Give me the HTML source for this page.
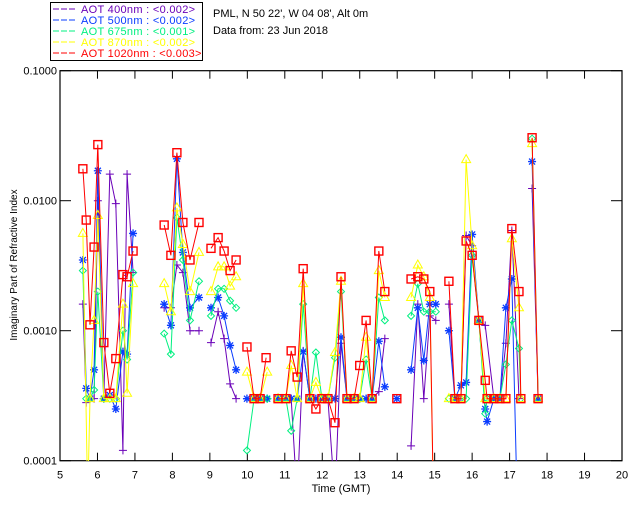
<!DOCTYPE html>
<html><head><meta charset="utf-8">
<style>
html,body{margin:0;padding:0;background:#fff;}
svg{display:block;font-family:"Liberation Sans",sans-serif;}
</style></head>
<body>
<svg id="chart" width="640" height="512" viewBox="0 0 640 512">
<rect x="0" y="0" width="640" height="512" fill="#fff"/>
<defs><clipPath id="pc"><rect x="60" y="70" width="562" height="391"/></clipPath></defs>
<g id="legend">
<rect x="50.5" y="2.5" width="152" height="58" fill="#fff" stroke="#000"/>
</g>
<text x="213" y="17" font-size="11">PML, N 50 22', W 04 08', Alt 0m</text>
<text x="213" y="34" font-size="11">Data from: 23 Jun 2018</text>
<g id="axes"></g>
<g id="series" clip-path="url(#pc)"></g>
<text x="341" y="492" font-size="11" text-anchor="middle">Time (GMT)</text>
<text transform="translate(17,265) rotate(-90)" font-size="10" text-anchor="middle">Imaginary Part of Refractive Index</text>
</svg>
<script>
const xTicks = [5,6,7,8,9,10,11,12,13,14,15,16,17,18,19,20];
const yTicks = [0.1,0.01,0.001,0.0001];
const yTickLabels = ["0.1000","0.0100","0.0010","0.0001"];
const legendLabels = ["AOT  400nm : <0.002>","AOT  500nm : <0.002>","AOT  675nm : <0.001>","AOT  870nm : <0.002>","AOT 1020nm : <0.003>"];

const s400 = [[5.61,0.0016],[5.70,0.00028],[5.80,0.0003],[5.91,0.0003],[6.01,0.01],[6.17,0.0003],[6.33,0.016],[6.49,0.0095],[6.68,0.00012],[6.79,0.016],[6.95,0.0028],null,[7.78,0.0015],[7.96,0.0015],[8.12,0.0032],[8.28,0.0028],[8.47,0.001],[8.71,0.001],null,[9.03,0.00081],[9.22,0.0014],[9.38,0.00087],[9.54,0.00039],[9.70,0.0003],null,[9.99,0.0003],[10.18,0.0003],[10.34,0.0003],[10.53,0.0003],null,[10.82,0.0003],[11.03,0.0003],[11.17,0.0003],[11.33,0.00005],[11.49,0.0007],[11.67,0.0003],[11.83,0.0003],[11.99,0.0003],[12.15,0.0003],[12.34,0.00005],[12.50,0.0008],[12.66,0.0003],[12.85,0.0003],[13.00,0.0003],[13.17,0.0003],[13.33,0.0003],[13.51,0.00034],[13.67,0.00087],null,[14.37,0.00013],[14.55,0.0016],[14.71,0.0003],[14.87,0.0013],[15.03,0.0012],null,[15.38,0.0016],[15.54,0.0003],[15.70,0.0003],[15.84,0.0054],[16.00,0.0045],[16.18,0.0012],[16.35,0.0011],[16.58,0.0003],[16.74,0.0003],[16.90,0.0008],[17.06,0.0059],[17.25,0.0003],null,[17.60,0.0124],[17.76,0.0003]];
const s500 = [[5.61,0.0035],[5.70,0.00036],[5.80,0.0003],[5.91,0.0005],[6.01,0.017],[6.17,0.0003],[6.33,0.00032],[6.49,0.00025],[6.68,0.00069],[6.79,0.00066],[6.95,0.0056],null,[7.78,0.0016],[7.96,0.0011],[8.12,0.021],[8.28,0.004],[8.47,0.0015],[8.71,0.0018],null,[9.03,0.0015],[9.22,0.0018],[9.38,0.0013],[9.54,0.00077],[9.70,0.0005],null,[9.99,0.0003],[10.18,0.0003],[10.34,0.0003],[10.53,0.0003],null,[10.82,0.0003],[11.03,0.0003],[11.17,0.0003],[11.33,0.0003],[11.49,0.00069],[11.67,0.0003],[11.83,0.0003],[11.99,0.0003],[12.15,0.0003],[12.34,0.0003],[12.50,0.00089],[12.66,0.0003],[12.85,0.0003],[13.00,0.0003],[13.17,0.0003],[13.33,0.0003],[13.51,0.00083],[13.67,0.00037],null,[13.99,0.0003],null,[14.37,0.0005],[14.55,0.0015],[14.71,0.00059],[14.87,0.0016],[15.03,0.0016],null,[15.38,0.001],[15.54,0.0003],[15.70,0.00038],[15.84,0.0004],[16.00,0.0055],[16.18,0.0012],[16.35,0.00025],[16.40,0.0002],[16.58,0.0003],[16.74,0.0003],[16.90,0.0015],[17.06,0.0025],[17.20,0.00005],null,[17.60,0.02],[17.76,0.0003]];
const s675 = [[5.61,0.0029],[5.70,0.0003],[5.80,0.0003],[5.91,0.00035],[6.01,0.002],[6.17,0.0003],[6.33,0.0003],[6.49,0.0003],[6.68,0.001],[6.79,0.0006],[6.95,0.0028],null,[7.78,0.00095],[7.96,0.00066],[8.12,0.0074],[8.28,0.0035],[8.47,0.0012],[8.71,0.0024],null,[9.03,0.0013],[9.22,0.0021],[9.38,0.0021],[9.54,0.0017],[9.70,0.0015],null,[9.99,0.00012],[10.18,0.0003],[10.34,0.0003],[10.53,0.0003],null,[10.82,0.0003],[11.03,0.0003],[11.17,0.00017],[11.33,0.0003],[11.49,0.0016],[11.67,0.0003],[11.83,0.00068],[11.99,0.0003],[12.15,0.0003],[12.34,0.00062],[12.50,0.002],[12.66,0.0003],[12.85,0.0003],[13.00,0.0003],[13.17,0.0006],[13.33,0.0003],[13.51,0.0018],[13.67,0.0012],null,[14.37,0.0013],[14.55,0.0023],[14.71,0.0014],[14.87,0.0014],[15.03,0.0014],null,[15.38,0.0003],[15.54,0.0003],[15.70,0.0003],[15.84,0.0003],[16.00,0.0038],[16.18,0.0012],[16.35,0.00023],[16.40,0.0003],[16.58,0.0003],[16.74,0.0003],[16.90,0.00055],[17.06,0.0012],[17.25,0.00073],[17.30,0.0003],null,[17.60,0.03],[17.76,0.0003]];
const s870 = [[5.61,0.0056],[5.74,0.00005],[5.80,0.0003],[5.91,0.0012],[6.01,0.0077],[6.17,0.0003],[6.33,0.0003],[6.49,0.0003],[6.68,0.0016],[6.79,0.00033],[6.95,0.0023],null,[7.78,0.0023],[7.96,0.0014],[8.12,0.0088],[8.28,0.0046],[8.47,0.002],[8.71,0.004],null,[9.03,0.002],[9.22,0.0031],[9.38,0.0031],[9.54,0.0022],[9.70,0.0026],null,[9.99,0.00048],[10.18,0.0003],[10.34,0.0003],[10.53,0.00048],null,[10.82,0.0003],[11.03,0.0003],[11.17,0.00054],[11.33,0.0003],[11.49,0.0023],[11.67,0.0003],[11.83,0.0004],[11.99,0.0003],[12.15,0.0003],[12.34,0.00068],[12.50,0.0024],[12.66,0.0003],[12.85,0.0003],[13.00,0.0003],[13.17,0.00089],[13.33,0.0003],[13.51,0.0029],[13.67,0.0018],null,[14.37,0.0018],[14.55,0.0032],[14.71,0.0026],[14.87,0.0018],[14.98,0.00003],null,[15.38,0.0003],[15.54,0.0003],[15.70,0.0003],[15.84,0.0207],[16.00,0.0045],[16.18,0.0012],[16.35,0.0003],[16.58,0.0003],[16.74,0.0003],[16.90,0.0003],[17.06,0.0051],[17.25,0.0015],[17.30,0.0003],null,[17.60,0.0275],[17.76,0.0003]];
const s1020 = [[5.61,0.0176],[5.70,0.0071],[5.80,0.00111],[5.91,0.0044],[6.01,0.027],[6.17,0.00081],[6.33,0.00033],[6.49,0.00061],[6.68,0.0027],[6.79,0.0026],[6.95,0.0041],null,[7.78,0.0065],[7.96,0.0038],[8.12,0.0234],[8.28,0.0068],[8.47,0.0035],[8.71,0.0068],null,[9.03,0.0043],[9.22,0.0052],[9.38,0.0041],[9.54,0.0029],[9.70,0.0035],null,[9.99,0.00075],[10.18,0.0003],[10.34,0.0003],[10.50,0.00062],null,[10.82,0.0003],[11.03,0.0003],[11.17,0.0007],[11.33,0.00044],[11.49,0.003],[11.67,0.0003],[11.83,0.00025],[11.99,0.0003],[12.15,0.0003],[12.34,0.000196],[12.50,0.0026],[12.66,0.0003],[12.85,0.0003],[13.00,0.00054],[13.17,0.0012],[13.33,0.0003],[13.51,0.0041],[13.67,0.002],null,[13.99,0.0003],null,[14.37,0.0025],[14.55,0.0026],[14.71,0.0025],[14.87,0.002],[14.98,0.00003],null,[15.38,0.0024],[15.54,0.0003],[15.70,0.0003],[15.84,0.0049],[16.00,0.0038],[16.18,0.0012],[16.35,0.000415],[16.40,0.0003],[16.58,0.0003],[16.74,0.0003],[16.90,0.0003],[17.06,0.0061],[17.25,0.002],[17.30,0.0003],null,[17.60,0.0305],[17.76,0.0003]];

const NS = "http://www.w3.org/2000/svg";
const X0 = 60, X1 = 622, Y0 = 70.7, Y1 = 460.7;
function xs(t){ return X0 + (t - 5) * (X1 - X0) / 15; }
function ys(v){ return Y0 + (-1 - Math.log10(v)) * (Y1 - Y0) / 3; }
function mk(tag, attrs, parent){ const e = document.createElementNS(NS, tag); for (const k in attrs) e.setAttribute(k, attrs[k]); parent.appendChild(e); return e; }

const axes = document.getElementById('axes');
const frame = mk('rect', {x:X0, y:Y0, width:X1-X0, height:Y1-Y0, fill:'none', stroke:'#000', 'stroke-width':1.2}, axes);


xTicks.forEach(t => {
  const x = xs(t);
  const a = mk('line', {x1:x, x2:x, y1:Y1, y2:Y1-8, stroke:'#000'}, axes);
  
  
  mk('line', {x1:x, x2:x, y1:Y0, y2:Y0+8, stroke:'#000'}, axes);
  const l = mk('text', {x:x, y:Y1+18, 'font-size':11, 'text-anchor':'middle'}, axes);
  l.textContent = t;
  
  
});
yTicks.forEach((v, i) => {
  const y = ys(v);
  const a = mk('line', {x1:X0, x2:X0+11, y1:y, y2:y, stroke:'#000'}, axes);
  
  
  mk('line', {x1:X1, x2:X1-11, y1:y, y2:y, stroke:'#000'}, axes);
  const l = mk('text', {x:X0-3, y:y+4, 'font-size':11, 'text-anchor':'end'}, axes);
  l.textContent = yTickLabels[i];
  
  
});

const cols = ['#6a00b8','#0a3cff','#00f080','#ffff00','#ff0000'];
const names = ['aot-400','aot-500','aot-675','aot-870','aot-1020'];
const types = ['plus','star','diamond','tri','square'];
const allSeries = [s400, s500, s675, s870, s1020];

const leg = document.getElementById('legend');
legendLabels.forEach((lab, i) => {
  const y = 9 + i * 11;
  mk('line', {x1:53, x2:77, y1:y, y2:y, stroke:cols[i], 'stroke-dasharray':'6,2'}, leg);
  const t = mk('text', {x:81, y:y+4, 'font-size':11, fill:cols[i], 'letter-spacing':'0.3', 'xml:space':'preserve'}, leg);
  t.textContent = lab;
  
  
});

const sg = document.getElementById('series');
function marker(type, x, y, c, g){
  let e;
  if (type === 'plus') e = mk('path', {d:`M${x-4},${y}H${x+4}M${x},${y-4}V${y+4}`, stroke:c, fill:'none'}, g);
  else if (type === 'star') e = mk('path', {d:`M${x-4},${y}H${x+4}M${x},${y-4}V${y+4}M${x-3},${y-3}L${x+3},${y+3}M${x-3},${y+3}L${x+3},${y-3}`, stroke:c, 'stroke-width':1.3, fill:'none'}, g);
  else if (type === 'diamond') e = mk('path', {d:`M${x},${y-3.5}L${x+3.5},${y}L${x},${y+3.5}L${x-3.5},${y}Z`, stroke:c, fill:'none'}, g);
  else if (type === 'tri') e = mk('path', {d:`M${x},${y-5}L${x+4.5},${y+3}L${x-4.5},${y+3}Z`, stroke:c, fill:'none'}, g);
  else e = mk('rect', {x:x-4, y:y-4, width:8, height:8, stroke:c, 'stroke-width':1.4, fill:'none'}, g);
  return e;
}
allSeries.forEach((data, si) => {
  const g = mk('g', {}, sg);
  
  
  let d = '', pen = false;
  data.forEach(p => {
    if (!p) { pen = false; return; }
    d += (pen ? 'L' : 'M') + xs(p[0]).toFixed(1) + ',' + ys(p[1]).toFixed(1);
    pen = true;
  });
  const line = mk('path', {d:d, stroke:cols[si], fill:'none', 'stroke-width':1}, g);
  
  
  data.forEach(p => {
    if (!p || p[1] < 0.0001) return;
    const m = marker(types[si], xs(p[0]), ys(p[1]), cols[si], g);
    
    
  });
});
</script>
</body></html>
